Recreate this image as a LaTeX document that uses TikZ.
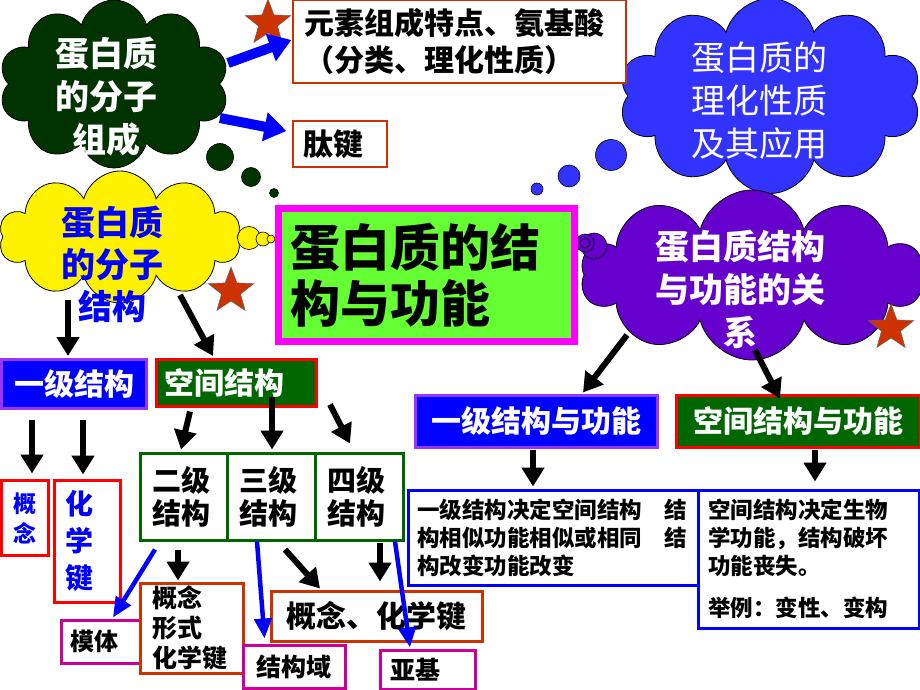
\documentclass[tikz,border=0pt]{standalone}
\usepackage{fontspec}
\setmainfont{Noto Sans CJK SC}[BoldFont={Noto Sans CJK SC Black}]
\usetikzlibrary{shapes.symbols,shapes.geometric,arrows.meta,calc}

\definecolor{cldgreen}{RGB}{0,51,0}
\definecolor{cldblue}{RGB}{51,51,255}
\definecolor{cldpurple}{RGB}{102,0,204}
\definecolor{boxblue}{RGB}{0,0,255}
\definecolor{boxpurple}{RGB}{153,51,255}
\definecolor{boxgreen}{RGB}{0,102,0}
\definecolor{ttlgreen}{RGB}{102,255,51}
\definecolor{ttlpink}{RGB}{255,0,255}
\definecolor{rustred}{RGB}{204,51,0}
\definecolor{pinkred}{RGB}{204,0,153}

\newcommand{\fsz}[2]{\fontsize{#1}{#2}\selectfont}

\tikzset{
  cloudy/.style={cloud, cloud puffs=10, cloud ignores aspect, draw=black, line width=0.8, inner sep=0},
  bubble/.style={circle, draw=black, line width=0.6, inner sep=0},
  redstar/.style={star, star points=5, star point ratio=2.4, fill=rustred, draw=black!60, line width=0.5, inner sep=0, minimum size=48},
  plainbox/.style={rectangle, draw, line width=3, fill=white, inner sep=0},
  lvlbox/.style={plainbox, draw=boxgreen, minimum width=88, minimum height=87, text width=64, align=left, font=\fsz{29}{33}\bfseries},
  blkarrow/.style={line width=6, -{Triangle[length=19pt,width=22pt]}},
  bluarrow/.style={boxblue, line width=4.5, -{Triangle[length=20pt,width=17pt]}},
  fatarrow/.style={boxblue, line width=10, -{Triangle[length=22pt,width=28pt]}}
}

\begin{document}
\begin{tikzpicture}[x=1pt,y=-1pt]
  \useasboundingbox (0,0) rectangle (920,690);

  \node[cloudy, fill=cldgreen, minimum width=230, minimum height=168] (gc) at (114,84) {};
  \node[cloudy, fill=yellow, minimum width=242, minimum height=132] (yc) at (120,237) {};
  \node[cloudy, fill=cldblue, minimum width=302, minimum height=195] (bc) at (770,96) {};
  \node[cloudy, fill=cldpurple, minimum width=342, minimum height=170] (pc) at (752,275) {};

  \node[bubble, fill=cldgreen, minimum size=27] (gd1) at (220,157) {};
  \node[bubble, fill=cldgreen, minimum size=19] (gd2) at (251,177) {};
  \node[bubble, fill=cldgreen, minimum size=9] (gd3) at (274,193) {};
  \node[bubble, fill=cldblue, minimum size=31] (bd1) at (611,155) {};
  \node[bubble, fill=cldblue, minimum size=22] (bd2) at (569,176) {};
  \node[bubble, fill=cldblue, minimum size=12] (bd3) at (537,189) {};
  \node[bubble, fill=yellow, minimum size=23] (yd1) at (249,238) {};
  \node[bubble, fill=yellow, minimum size=14] (yd2) at (263,239) {};
  \node[bubble, fill=yellow, minimum size=8] (yd3) at (271,239) {};
  \node[bubble, fill=cldpurple, minimum size=26] (pd1) at (594,246) {};
  \node[bubble, fill=cldpurple, minimum size=18] (pd2) at (585,243) {};
  \node[bubble, minimum size=10] (pd3) at (585,243) {};

  \node[text=white, align=center, font=\fsz{34}{43}\bfseries] (gct) at (106,97) {蛋白质\\的分子\\组成};
  \node[text=boxblue, align=center, font=\fsz{34}{42}\bfseries] (yct) at (112,264) {蛋白质\\的分子\\结构};
  \node[text=white, align=center, font=\fsz{34}{43}] (bct) at (759,101) {蛋白质的\\理化性质\\及其应用};
  \node[text=white, align=center, font=\fsz{34}{43}\bfseries] (pct) at (740,289) {蛋白质结构\\与功能的关\\系};

  \node[redstar] (st1) at (268,23) {};
  \node[redstar] (st2) at (231,291) {};
  \node[redstar] (st3) at (891,328) {};

  \node[plainbox, draw=rustred, line width=1.2, minimum width=333, minimum height=83, text width=310, align=left, font=\fsz{30}{37}\bfseries] (elem) at (459.5,41.5) {元素组成特点、氨基酸\\（分类、理化性质）};
  \node[plainbox, draw=rustred, line width=1.2, minimum width=94, minimum height=46, text width=74, align=left, font=\fsz{30}{37}\bfseries] (pep) at (340,144) {肽键};

  \node[draw=ttlpink, line width=7, fill=ttlgreen, inner sep=0, minimum width=296, minimum height=133, text width=272, align=left, font=\fsz{50}{56}\bfseries] (ttl) at (426.5,275) {蛋白质的结\\构与功能};

  \node[plainbox, draw=boxpurple, fill=boxblue, text=white, minimum width=145, minimum height=49, font=\fsz{30}{36}\bfseries] (L1) at (74,384) {一级结构};
  \node[plainbox, draw=red, fill=boxgreen, text=white, minimum width=160, minimum height=47, text width=145, align=left, font=\fsz{30}{36}\bfseries] (SP) at (236.5,383) {空间结构};

  \node[plainbox, draw=red, text=boxblue, minimum width=47, minimum height=75, align=center, font=\fsz{23}{30}\bfseries] (c1) at (25,518) {概\\念};
  \node[plainbox, draw=red, text=boxblue, minimum width=66, minimum height=122, text width=44, align=left, font=\fsz{28}{37}\bfseries] (c2) at (87,541) {化\\学\\键};

  \node[lvlbox] (s2) at (184,496.5) {二级\\结构};
  \node[lvlbox] (s3) at (271.5,496.5) {三级\\结构};
  \node[lvlbox] (s4) at (359,496.5) {四级\\结构};

  \node[plainbox, draw=pinkred, minimum width=79, minimum height=43, text width=60, align=left, font=\fsz{24}{30}\bfseries] (motif) at (100.5,641.5) {模体};
  \node[plainbox, draw=rustred, minimum width=103, minimum height=90, text width=79, align=left, font=\fsz{25}{30}\bfseries] (cf) at (191.5,628) {概念\\形式\\化学键};
  \node[plainbox, draw=pinkred, minimum width=102, minimum height=43, font=\fsz{25}{30}\bfseries] (dom) at (294,666.5) {结构域};
  \node[plainbox, draw=rustred, minimum width=211, minimum height=50, font=\fsz{30}{36}\bfseries] (ck) at (376.5,616) {概念、化学键};
  \node[plainbox, draw=pinkred, minimum width=95, minimum height=39, text width=75, align=left, font=\fsz{25}{30}\bfseries] (sub) at (427.5,669.5) {亚基};

  \node[plainbox, draw=boxpurple, fill=boxblue, text=white, minimum width=242, minimum height=52, font=\fsz{30}{36}\bfseries] (F1) at (536,421) {一级结构与功能};
  \node[plainbox, draw=red, fill=boxgreen, text=white, minimum width=244, minimum height=52, font=\fsz{30}{36}\bfseries] (F2) at (798,421) {空间结构与功能};

  \node[plainbox, draw=boxblue, minimum width=290, minimum height=95, text width=272, align=left, font=\fsz{22.5}{28}\bfseries] (T1) at (553,537.5) {一级结构决定空间结构　结\\构相似功能相似或相同　结\\构改变功能改变};
  \node[plainbox, draw=boxblue, minimum width=221, minimum height=138, text width=201, align=left, font=\fsz{22.5}{28}\bfseries] (T2) at (808.5,559) {空间结构决定生物\\学功能，结构破坏\\功能丧失。\\[14pt]举例：变性、变构};

  \draw[fatarrow] ($(gc.center)+(114,-21)$) -- ($(elem.west)+(-1,-1.5)$);
  \draw[fatarrow] ($(gc.center)+(106,34)$) -- ($(pep.west)+(-6,-13)$);

  \draw[blkarrow] ($(yc.center)+(-52,63)$) -- ($(L1.north)+(-6,-2)$);
  \draw[blkarrow] ($(yc.center)+(60,58)$) -- ($(SP.north)+(-23.5,-2)$);
  \draw[blkarrow] ($(L1.south)+(-42,9.5)$) -- ($(c1.north)+(7,-5.5)$);
  \draw[blkarrow] ($(L1.south)+(9,9.5)$) -- ($(c2.north)+(-4,-4)$);
  \draw[blkarrow] ($(SP.south)+(-46.5,3.5)$) -- ($(s2.north)+(-3,-2)$);
  \draw[blkarrow] ($(SP.south)+(35.5,-11.5)$) -- ($(s3.north)+(0.5,-2)$);
  \draw[blkarrow] ($(SP.south)+(93.5,-3.5)$) -- ($(s4.north)+(-9,-8)$);
  \draw[blkarrow] ($(s2.south)+(-6,8)$) -- ($(cf.north)+(-13.5,-1)$);
  \draw[blkarrow] ($(s3.south)+(13.5,8)$) -- ($(ck.north)+(-56.5,-1)$);
  \draw[blkarrow] ($(s4.south)+(21,1)$) -- ($(ck.north)+(3.5,-8)$);
  \draw[bluarrow] ($(s2.south)+(-29,8)$) -- ($(motif.north)+(12.5,-1)$);
  \draw[bluarrow] ($(s3.south)+(-14.5,0)$) -- ($(dom.north)+(-29.5,-5)$);
  \draw[bluarrow] ($(s4.south)+(36,0)$) -- ($(sub.north)+(-17.5,-1)$);

  \draw[blkarrow] ($(pc.center)+(-125,60)$) -- ($(F1.north)+(47,-1)$);
  \draw[blkarrow] ($(pc.center)+(3,75)$) -- ($(F2.north)+(-18,5)$);
  \draw[blkarrow] ($(F1.south)+(-3,1)$) -- ($(T1.north)+(-20,-2)$);
  \draw[blkarrow] ($(F2.south)+(17,1)$) -- ($(T2.north)+(6.5,-7)$);
\end{tikzpicture}
\end{document}
